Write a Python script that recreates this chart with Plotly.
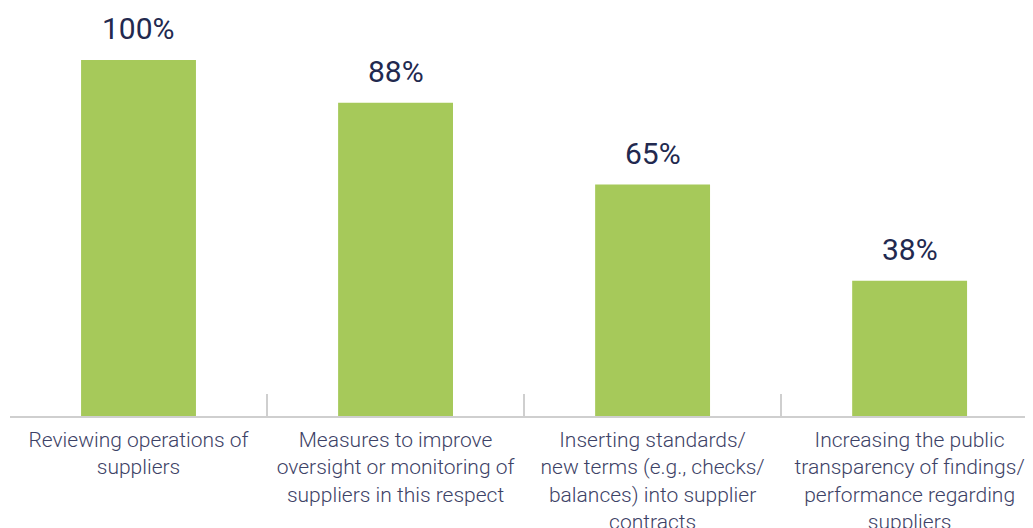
import plotly.graph_objects as go

categories = [
    "Reviewing operations of<br>suppliers",
    "Measures to improve<br>oversight or monitoring of<br>suppliers in this respect",
    "Inserting standards/<br>new terms (e.g., checks/<br>balances) into supplier<br>contracts",
    "Increasing the public<br>transparency of findings/<br>performance regarding<br>suppliers",
]
values = [100, 88, 65, 38]
labels = ["100%", "88%", "65%", "38%"]

fig = go.Figure(go.Bar(
    x=categories, y=values,
    marker=dict(color="#a6c95a", line=dict(width=0)),
    hoverinfo="skip",
))

for c, v, t in zip(categories, values, labels):
    fig.add_annotation(x=c, y=v, text=t, showarrow=False, yanchor="bottom",
                       yshift=12, font=dict(family="Roboto", size=30, color="#22294f"))

fig.update_layout(
    width=1025, height=520,
    margin=dict(l=2, r=0, t=0, b=112, autoexpand=False),
    paper_bgcolor="white", plot_bgcolor="white",
    bargap=0.553,
    showlegend=False,
    xaxis=dict(
        type="category",
        range=[-0.5, 3.48],
        tickson="boundaries", ticks="inside", ticklen=22, tickwidth=1.5, tickcolor="#cfcfcf",
        showline=True, linecolor="#cfcfcf", linewidth=1.5,
        showgrid=False, zeroline=False, automargin=False,
        ticklabelstandoff=4,
        tickfont=dict(family="Roboto", size=21, color="#3d4266", weight=300),
        tickangle=0, fixedrange=True,
    ),
    yaxis=dict(range=[0, 114.6], visible=False, fixedrange=True, automargin=False),
)

fig.write_html("out.html")
